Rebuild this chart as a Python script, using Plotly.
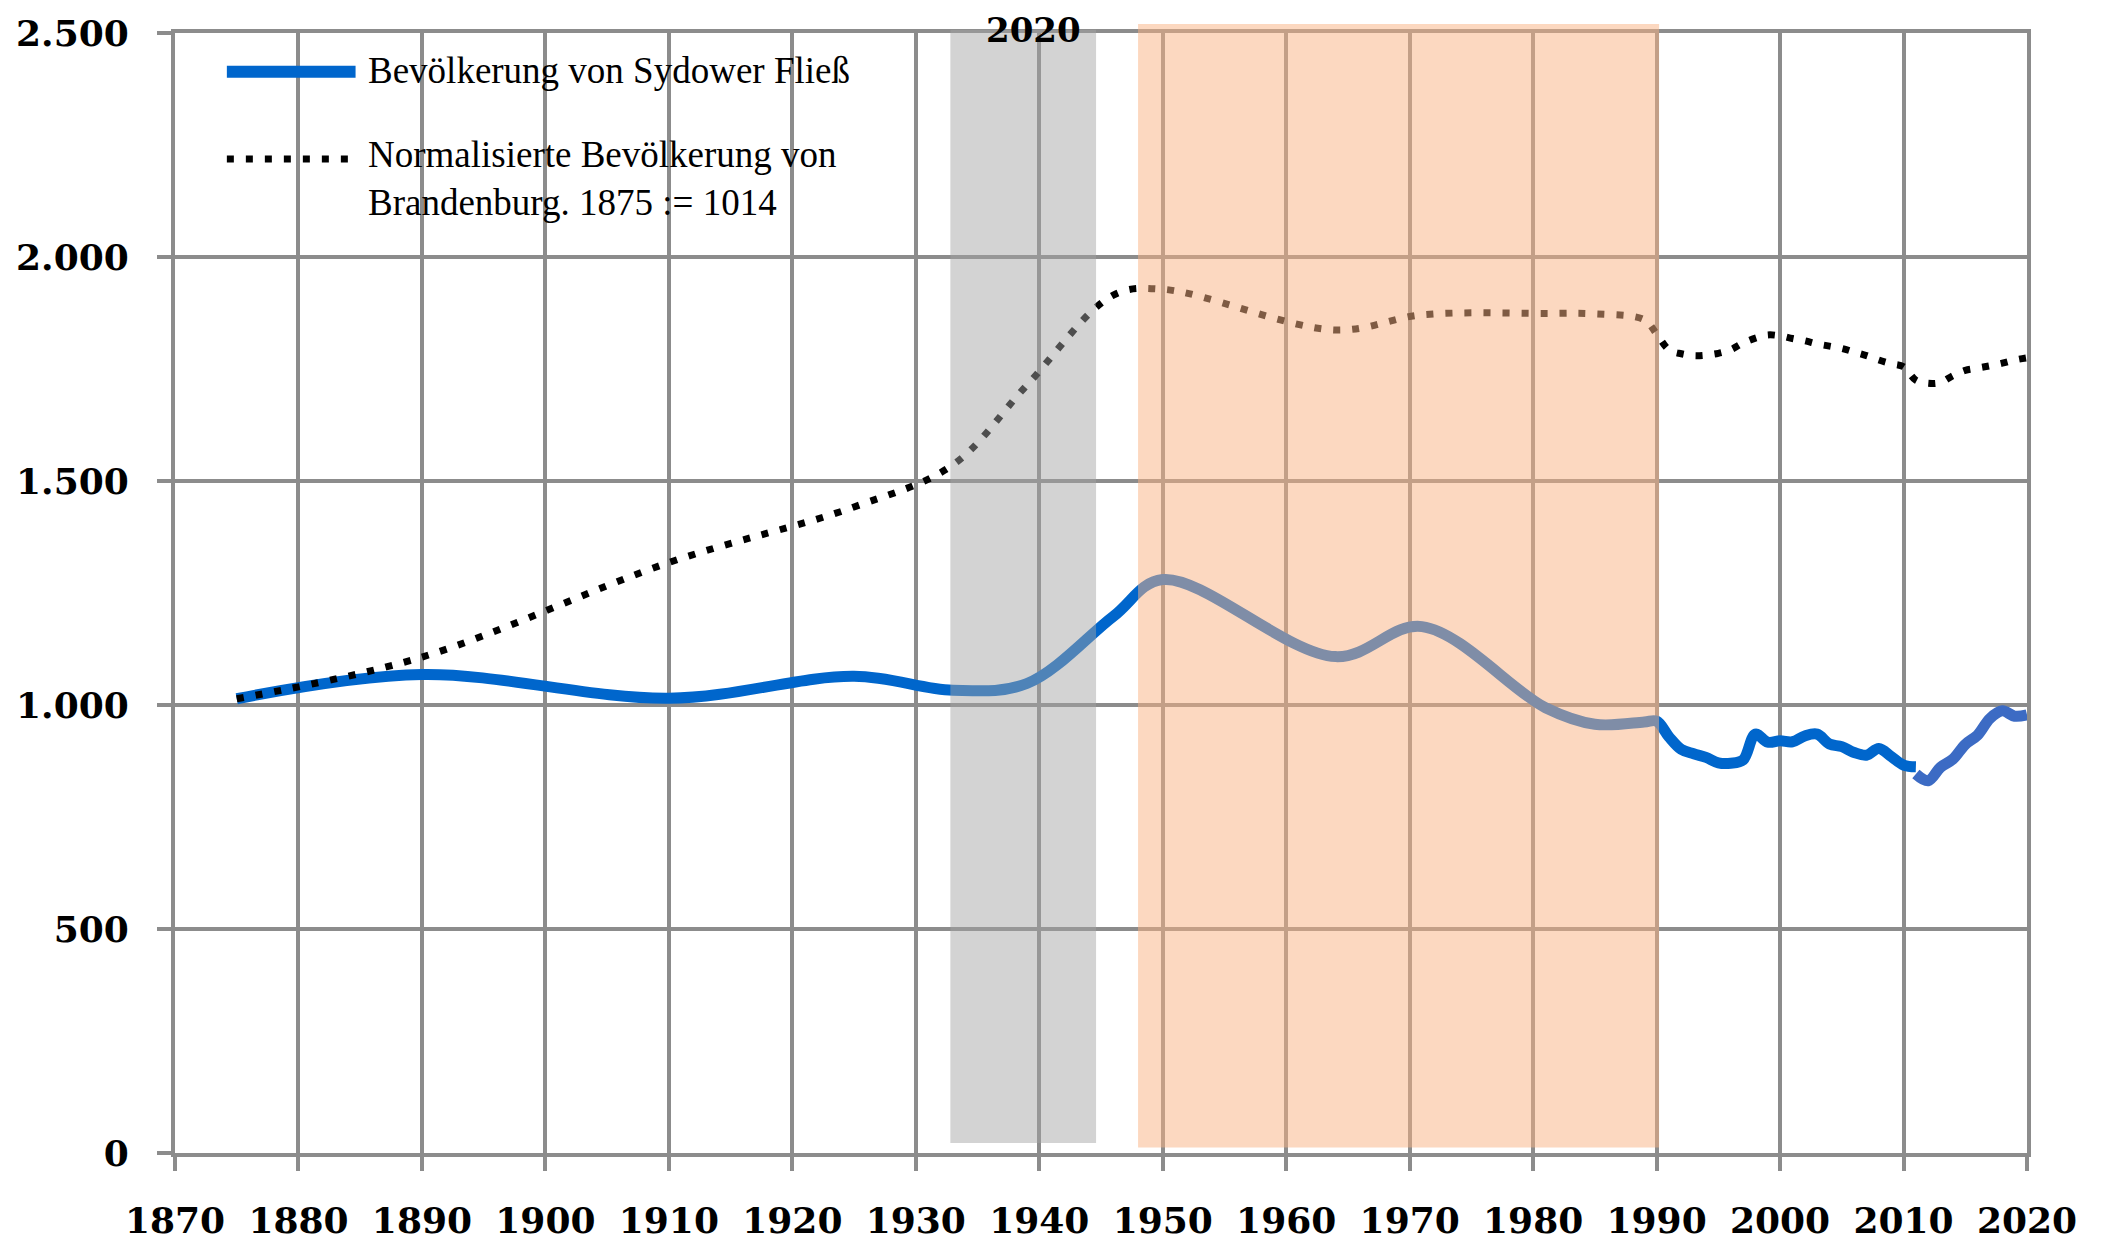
import plotly.graph_objects as go

# --- data -------------------------------------------------------------
years_sydow = [1875, 1890, 1910, 1925, 1933, 1939, 1946, 1950, 1964, 1971, 1981, 1985,
               1989, 1990, 1991, 1992, 1993, 1994, 1995, 1996, 1997, 1998, 1999, 2000,
               2001, 2002, 2003, 2004, 2005, 2006, 2007, 2008, 2009, 2010, 2011]
pop_sydow = [1014, 1068, 1015, 1064, 1033, 1048, 1198, 1280, 1108, 1175, 994, 957,
             962, 964, 929, 901, 891, 883, 871, 870, 877, 935, 917, 920,
             918, 931, 935, 913, 907, 894, 888, 903, 885, 866, 862]

years_sydow_zensus = [2011, 2012, 2013, 2014, 2015, 2016, 2017, 2018, 2019, 2020]
pop_sydow_zensus = [846, 831, 861, 879, 912, 933, 970, 987, 975, 978]

years_bb = [1875, 1890, 1910, 1925, 1933, 1939, 1946, 1950, 1964, 1971, 1981, 1985,
            1989, 1990, 1991, 1992, 1993, 1994, 1995, 1996, 1997, 1998, 1999, 2000,
            2001, 2002, 2003, 2004, 2005, 2006, 2007, 2008, 2009, 2010, 2011, 2012,
            2013, 2014, 2015, 2016, 2017, 2018, 2019, 2020]
pop_bb_norm = [1014, 1107, 1318, 1442, 1536, 1714, 1915, 1928, 1837, 1871, 1874, 1873,
               1860, 1828, 1793, 1784, 1780, 1781, 1785, 1793, 1808, 1819, 1826, 1824,
               1818, 1813, 1806, 1801, 1796, 1788, 1780, 1770, 1762, 1755, 1725, 1718,
               1720, 1735, 1747, 1752, 1757, 1763, 1770, 1775]

x_ticks = list(range(1870, 2021, 10))
y_ticks = [0, 500, 1000, 1500, 2000, 2500]
y_ticktext = ["0", "500", "1.000", "1.500", "2.000", "2.500"]

label_sydow = "Bevölkerung von Sydower Fließ"
label_bb = "Normalisierte Bevölkerung von<br>Brandenburg. 1875 := 1014"

# --- styling ----------------------------------------------------------
BLUE = "#0066cc"
BLUE2 = "#3c6bc4"
GRID = "#8c8c8c"
SERIF = "Liberation Serif"
TICKFONT = "DejaVu Serif"
DOTS = "7px,12px"

fig = go.Figure()
fig.add_trace(go.Scatter(x=years_sydow, y=pop_sydow, mode="lines",
                         line=dict(color=BLUE, width=11, shape="spline", smoothing=1),
                         showlegend=False, hoverinfo="x+y"))
fig.add_trace(go.Scatter(x=years_sydow_zensus, y=pop_sydow_zensus, mode="lines",
                         line=dict(color=BLUE2, width=11, shape="spline", smoothing=1),
                         showlegend=False, hoverinfo="x+y"))
fig.add_trace(go.Scatter(x=years_bb, y=pop_bb_norm, mode="lines",
                         line=dict(color="black", width=7, dash=DOTS,
                                   shape="spline", smoothing=1),
                         showlegend=False, hoverinfo="x+y"))

# shaded periods (drawn above the lines, semi-transparent)
fig.add_shape(type="rect", xref="x", yref="paper", x0=1932.8, x1=1944.6,
              y0=0.009, y1=1.003, fillcolor="rgba(163,163,163,0.48)",
              line=dict(width=0), layer="above")
fig.add_shape(type="rect", xref="x", yref="paper", x0=1948.0, x1=1990.2,
              y0=0.005, y1=1.008, fillcolor="rgba(249,179,132,0.51)",
              line=dict(width=0), layer="above")

# custom legend
fig.add_shape(type="line", xref="paper", yref="paper", x0=0.028, x1=0.0975,
              y0=0.9655, y1=0.9655, line=dict(color=BLUE, width=12))
fig.add_shape(type="line", xref="paper", yref="paper", x0=0.028, x1=0.0975,
              y0=0.8876, y1=0.8876, line=dict(color="black", width=7, dash=DOTS))
fig.add_annotation(xref="paper", yref="paper", x=0.1034, y=0.9665, text=label_sydow,
                   showarrow=False, xanchor="left", yanchor="middle", align="left",
                   font=dict(family=SERIF, size=37, color="black"))
fig.add_annotation(xref="paper", yref="paper", x=0.1034, y=0.8705, text=label_bb,
                   showarrow=False, xanchor="left", yanchor="middle", align="left",
                   font=dict(family=SERIF, size=37, color="black"))

# stray "2020" label at the top
fig.add_annotation(xref="x", yref="paper", x=1939.5, y=1.0025, text="2020",
                   showarrow=False, xanchor="center", yanchor="middle", borderpad=0,
                   font=dict(family=TICKFONT, size=34, color="black", weight="bold"))

axis_common = dict(showgrid=True, gridcolor=GRID, gridwidth=4, zeroline=False,
                   showline=True, mirror=True, linecolor=GRID, linewidth=4,
                   ticks="outside", ticklen=14, tickwidth=4, tickcolor=GRID,
                   automargin=False,
                   tickfont=dict(family=TICKFONT, size=36, color="black", weight="bold"))

fig.update_xaxes(range=[1870, 2020], tickvals=x_ticks, ticktext=[str(t) for t in x_ticks],
                 ticklabelstandoff=19, **axis_common)
fig.update_yaxes(range=[0, 2500], tickvals=y_ticks, ticktext=y_ticktext,
                 ticklabelstandoff=21, **axis_common)

# the page adds an 8px body margin; margins compensate so the plot area
# sits at x 175..2027, y 33..1153 in the window
fig.update_layout(width=2101, height=1241, plot_bgcolor="white", paper_bgcolor="white",
                  margin=dict(l=167, r=82, t=25, b=96), showlegend=False)

fig.write_html("out.html")
